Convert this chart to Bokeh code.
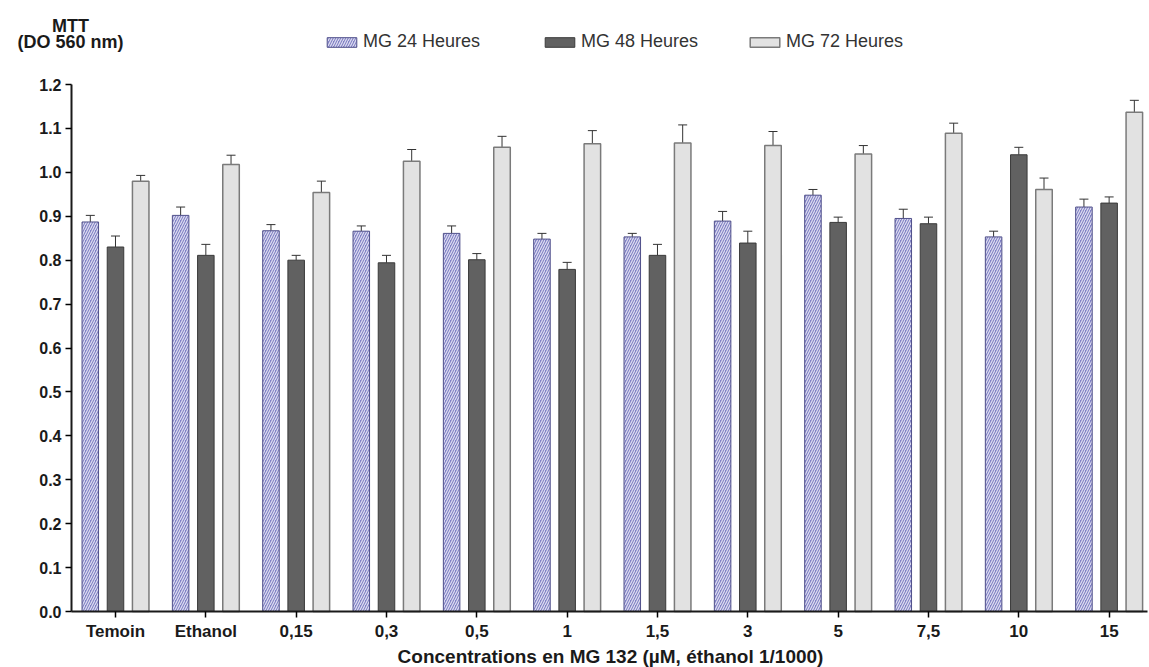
from bokeh.plotting import figure
from bokeh.models import (ColumnDataSource, Whisker, TeeHead, Label, Legend, LegendItem,
                          FixedTicker, PrintfTickFormatter, Range1d)
from bokeh.embed import file_html
from bokeh.resources import INLINE

categories = ["Temoin", "Ethanol", "0,15", "0,3", "0,5", "1", "1,5", "3", "5", "7,5", "10", "15"]
mg24 = [0.887, 0.902, 0.867, 0.866, 0.861, 0.848, 0.853, 0.889, 0.948, 0.895, 0.853, 0.921]
mg24_err = [0.015, 0.019, 0.014, 0.012, 0.017, 0.013, 0.008, 0.022, 0.013, 0.021, 0.013, 0.018]
mg48 = [0.830, 0.811, 0.800, 0.794, 0.801, 0.779, 0.811, 0.839, 0.886, 0.883, 1.040, 0.930]
mg48_err = [0.025, 0.025, 0.011, 0.017, 0.014, 0.016, 0.025, 0.027, 0.012, 0.015, 0.017, 0.014]
mg72 = [0.980, 1.018, 0.954, 1.025, 1.057, 1.065, 1.067, 1.061, 1.042, 1.089, 0.961, 1.137]
mg72_err = [0.013, 0.021, 0.026, 0.027, 0.025, 0.030, 0.041, 0.032, 0.019, 0.023, 0.026, 0.027]
series_names = ["MG 24 Heures", "MG 48 Heures", "MG 72 Heures"]
y_ticks = [0.0, 0.1, 0.2, 0.3, 0.4, 0.5, 0.6, 0.7, 0.8, 0.9, 1.0, 1.1, 1.2]

FONT = "Liberation Sans"
OFFSET = 0.279
BAR_W = 0.183
X_LEFT, X_RIGHT = -0.487, 11.425   # extent of the drawn x axis line

p = figure(width=1149, height=667, x_range=Range1d(-1.2731, 11.4469),
           y_range=Range1d(-0.1275, 1.3913),
           output_backend="svg", toolbar_location=None, min_border=0,
           min_border_left=0, min_border_right=0, min_border_top=0, min_border_bottom=0)
p.outline_line_color = None
p.xgrid.grid_line_color = None
p.ygrid.grid_line_color = None
p.background_fill_color = "white"
p.border_fill_color = "white"

xs = list(range(len(categories)))
styles = [
    dict(fill_color="#8282c6", line_color="#50508a", line_width=1,
         hatch_pattern="/", hatch_color="white", hatch_alpha=0.75, hatch_weight=1.2, hatch_scale=5),
    dict(fill_color="#616161", line_color="#3a3a3a", line_width=1),
    dict(fill_color="#e2e2e2", line_color="#7a7a7a", line_width=1.5),
]
renderers = []
for k, (vals, errs) in enumerate([(mg24, mg24_err), (mg48, mg48_err), (mg72, mg72_err)]):
    off = (k - 1) * OFFSET
    src = ColumnDataSource(dict(
        x=[x + off for x in xs], top=vals,
        upper=[v + e for v, e in zip(vals, errs)], cat=categories))
    r = p.vbar(x="x", top="top", bottom=0, width=BAR_W, source=src, **styles[k])
    renderers.append(r)
    w = Whisker(base="x", lower="top", upper="upper", source=src, dimension="height",
                line_color="#333333", line_width=1,
                upper_head=TeeHead(size=9, line_color="#333333", line_width=1), lower_head=None)
    p.add_layout(w)

# axes, pinned inside the full-canvas frame
p.xaxis.fixed_location = 0
p.xaxis.bounds = (X_LEFT, X_RIGHT)
p.xaxis.ticker = FixedTicker(ticks=xs)
p.xaxis.major_label_overrides = {i: c for i, c in enumerate(categories)}
p.xaxis.minor_tick_line_color = None
p.xaxis.major_tick_in = 0
p.xaxis.major_tick_out = 6
p.xaxis.major_label_standoff = 4
p.xaxis.axis_line_width = 2
p.xaxis.axis_line_color = "#1a1a1a"
p.xaxis.major_tick_line_width = 1.5
p.xaxis.major_label_text_font = FONT
p.xaxis.major_label_text_font_style = "bold"
p.xaxis.major_label_text_font_size = "17px"
p.xaxis.major_label_text_color = "#1a1a1a"

p.yaxis.fixed_location = X_LEFT
p.yaxis.bounds = (0, 1.2)
p.yaxis.ticker = FixedTicker(ticks=y_ticks)
p.yaxis.formatter = PrintfTickFormatter(format="%.1f")
p.yaxis.minor_tick_line_color = None
p.yaxis.major_tick_in = 0
p.yaxis.major_tick_out = 6
p.yaxis.major_label_standoff = 4
p.yaxis.axis_line_width = 2
p.yaxis.axis_line_color = "#1a1a1a"
p.yaxis.major_tick_line_width = 1.5
p.yaxis.major_label_text_font = FONT
p.yaxis.major_label_text_font_style = "bold"
p.yaxis.major_label_text_font_size = "16px"
p.yaxis.major_label_text_color = "#1a1a1a"

# legends (one per series so that each sits where the reference puts it)
for r, name, lx in zip(renderers, series_names, [323, 541, 746]):
    leg = Legend(items=[LegendItem(label=name, renderers=[r])], location=(lx, 615),
                 orientation="horizontal", padding=0, margin=0, border_line_color=None,
                 background_fill_alpha=0, glyph_width=37, glyph_height=12, label_height=12,
                 label_standoff=3, label_text_font=FONT, label_text_font_size="18px",
                 label_text_color="#333333")
    p.add_layout(leg, "center")

# titles
for txt, yv in [("MTT", 1.334), ("(DO 560 nm)", 1.296)]:
    p.add_layout(Label(x=-0.498, y=yv, text=txt, text_align="center", text_baseline="middle",
                       text_font=FONT, text_font_style="bold", text_font_size="18px",
                       text_color="#1a1a1a"))
p.add_layout(Label(x=5.48, y=-0.1025, text="Concentrations en MG 132 (µM, éthanol 1/1000)",
                   text_align="center", text_baseline="middle", text_font=FONT,
                   text_font_style="bold", text_font_size="19px", text_color="#1a1a1a"))

open("out.html", "w").write(file_html(p, INLINE))
